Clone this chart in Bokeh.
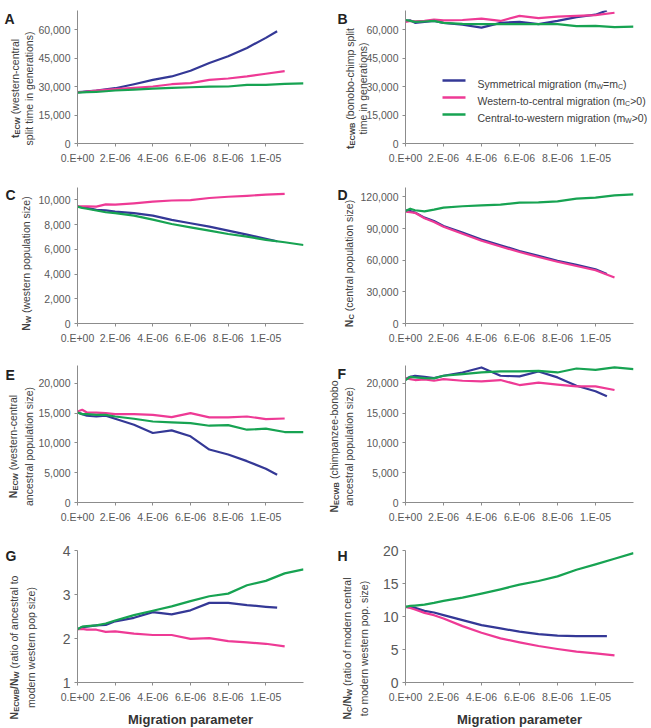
from bokeh.plotting import figure
from bokeh.models import Label, Range1d, FixedTicker, NumeralTickFormatter, Arrow, GridBox
from bokeh.layouts import column, row
from bokeh.embed import file_html
from bokeh.resources import INLINE

FONT = "Liberation Sans"
C_SYM = "#343896"
C_WC = "#ee3a95"
C_CW = "#17a352"
TXT = "#404040"
TICK = "#595959"

# ---------------- data ----------------
x_sym = [0, 0.25e-6, 0.5e-6, 1e-6, 1.5e-6, 2e-6, 3e-6, 4e-6, 5e-6, 6e-6, 7e-6, 8e-6, 9e-6, 10e-6, 10.6e-6]
x_wc = [0, 0.25e-6, 0.5e-6, 1e-6, 1.5e-6, 2e-6, 3e-6, 4e-6, 5e-6, 6e-6, 7e-6, 8e-6, 9e-6, 10e-6, 11e-6]
x_cw = [0, 0.25e-6, 0.5e-6, 1e-6, 1.5e-6, 2e-6, 3e-6, 4e-6, 5e-6, 6e-6, 7e-6, 8e-6, 9e-6, 10e-6, 11e-6, 12e-6]

x_ticks = [0, 2e-6, 4e-6, 6e-6, 8e-6, 1e-5]
x_tick_labels = ["0.E+00", "2.E-06", "4.E-06", "6.E-06", "8.E-06", "1.E-05"]

# A: western-central split time
A_sym = [27000, 27200, 27400, 27800, 28500, 29100, 31200, 33500, 35300, 38300, 42400, 45900, 50300, 55600, 59100]
A_wc = [27000, 27100, 27300, 27800, 28300, 28600, 29300, 30000, 31200, 31800, 33500, 34200, 35300, 36700, 38100]
A_cw = [26800, 26900, 27000, 27200, 27500, 27900, 28400, 28900, 29300, 29600, 29900, 30000, 30900, 30900, 31400, 31600]
# B: bonobo-chimp split time
B_sym = [64500, 64800, 63500, 64000, 64500, 63500, 62500, 61000, 63500, 64000, 62800, 64500, 66500, 67800, 70000]
B_wc = [64000, 64500, 64300, 64500, 65200, 64800, 65000, 65700, 64500, 67200, 66000, 66800, 67200, 67600, 68800]
B_cw = [65000, 64500, 64000, 64200, 64500, 63500, 63000, 62800, 62800, 62800, 62800, 62800, 61800, 61900, 61200, 61500]
# C: western population size
C_sym_v = [9450, 9400, 9350, 9190, 9150, 9050, 8920, 8730, 8380, 8110, 7840, 7510, 7190, 6840, 6650]
C_wc_v = [9480, 9480, 9470, 9450, 9640, 9620, 9720, 9850, 9950, 9980, 10150, 10250, 10330, 10420, 10490]
C_cw_v = [9450, 9350, 9280, 9140, 9000, 8920, 8730, 8400, 8050, 7780, 7510, 7240, 7030, 6760, 6570, 6350]
# D: central population size
D_sym = [107400, 106700, 105200, 100400, 97300, 92500, 86200, 79600, 74200, 68800, 64100, 59400, 55600, 51500, 47000]
D_wc = [106000, 105500, 105000, 99800, 96300, 91800, 85200, 78500, 73000, 67800, 63100, 58600, 54500, 50500, 43600]
D_cw = [106700, 108900, 107400, 106400, 108000, 109900, 111200, 112100, 112700, 114600, 114900, 115900, 118400, 119400, 121600, 122500]
# E: western-central ancestral population size
E_sym = [15100, 14830, 14560, 14440, 14560, 14060, 13060, 11670, 12110, 11110, 8890, 8060, 6940, 5670, 4670]
E_wc = [15280, 15560, 15100, 15100, 15000, 14830, 14830, 14700, 14330, 15000, 14280, 14280, 14440, 14000, 14100]
E_cw = [15100, 14830, 14830, 14720, 14720, 14440, 14060, 13600, 13440, 13330, 12890, 13000, 12220, 12390, 11830, 11830]
# F: chimpanzee-bonobo ancestral population size
F_sym = [20720, 21110, 21280, 21110, 20890, 21280, 21830, 22670, 21280, 21170, 22000, 21000, 19610, 18670, 17830]
F_wc = [20890, 20720, 20560, 20670, 20440, 20720, 20440, 20330, 20560, 19720, 20110, 19780, 19500, 19500, 18890]
F_cw = [20560, 21100, 21000, 20890, 20830, 21280, 21560, 21830, 22000, 22000, 22110, 21830, 22500, 22280, 22670, 22390]
# G: ratio ancestral / modern western
G_sym = [2.21, 2.26, 2.27, 2.30, 2.31, 2.39, 2.47, 2.60, 2.55, 2.64, 2.81, 2.81, 2.76, 2.72, 2.70]
G_wc = [2.21, 2.22, 2.20, 2.20, 2.15, 2.16, 2.11, 2.08, 2.08, 1.99, 2.01, 1.94, 1.91, 1.88, 1.82]
G_cw = [2.21, 2.27, 2.28, 2.30, 2.34, 2.41, 2.53, 2.63, 2.73, 2.85, 2.96, 3.02, 3.21, 3.31, 3.48, 3.57]
# H: ratio modern central / modern western
H_sym = [11.46, 11.4, 11.3, 10.85, 10.6, 10.2, 9.45, 8.7, 8.2, 7.7, 7.34, 7.09, 7.04, 7.04, 7.04]
H_wc = [11.46, 11.3, 11.06, 10.55, 10.2, 9.7, 8.54, 7.54, 6.68, 6.08, 5.53, 5.07, 4.67, 4.42, 4.12]
H_cw = [11.46, 11.6, 11.66, 11.8, 12.06, 12.36, 12.86, 13.47, 14.12, 14.82, 15.38, 16.08, 17.09, 17.89, 18.74, 19.6]

legend_labels = [
    [("Symmetrical migration (m", False), ("W", True), ("=m", False), ("C", True), (")", False)],
    [("Western-to-central migration (m", False), ("C", True), (">0)", False)],
    [("Central-to-western migration (m", False), ("W", True), (">0)", False)],
]

# ---------------- text metrics (Arial / Liberation Sans) ----------------
REG = {' ': 278, '(': 333, ')': 333, '-': 333, '.': 278, '/': 278, '=': 584, '>': 584, ',': 278,
       'a': 556, 'b': 556, 'c': 500, 'd': 556, 'e': 556, 'f': 278, 'g': 556, 'h': 556, 'i': 222,
       'j': 222, 'k': 500, 'l': 222, 'm': 833, 'n': 556, 'o': 556, 'p': 556, 'q': 556, 'r': 333,
       's': 500, 't': 278, 'u': 556, 'v': 500, 'w': 722, 'x': 500, 'y': 500, 'z': 500,
       'A': 667, 'B': 667, 'C': 722, 'D': 722, 'E': 667, 'F': 611, 'G': 778, 'H': 722, 'I': 278,
       'M': 833, 'N': 722, 'S': 667, 'T': 611, 'W': 944}
BOLD = {'t': 333, 'N': 722, 'E': 667, 'C': 722, 'W': 944, 'B': 722, '/': 278, ' ': 278}

PAGE_H = 728


def tw(s, size, bold):
    tab = BOLD if bold else REG
    return sum(tab.get(ch, REG.get(ch, 556)) for ch in s) * size / 1000.0


def rich(p, segs, x0, y0, vertical, center=True, color=TXT):
    total = sum(tw(t, s, b) for t, s, b, sub in segs)
    pos = -total / 2 if center else 0.0
    for t, s, b, sub in segs:
        stripped = t.lstrip(" ")
        pos += tw(t[:len(t) - len(stripped)], s, b)
        if vertical:
            x = x0 + 3.8 + (2.5 if sub else 0)
            y = y0 + pos
            ang = 1.5707963267948966
        else:
            x = x0 + pos
            y = y0 - (2.5 if sub else 0)
            ang = 0
        p.add_layout(Label(x=x, y=y, x_units="screen", y_units="screen", text=stripped, angle=ang,
                           text_font=FONT, text_font_size=f"{s}px",
                           text_font_style="bold" if b else "normal", text_color=color,
                           text_align="left", text_baseline="alphabetic"))
        pos += tw(stripped, s, b)


def R(t):
    return (t, 10.5, False, False)


def Bm(t):
    return (t, 10.5, True, False)


def S(t):
    return (t, 7.5, True, True)


def make(width, height, bl, br, bt, bb, ymin, ymax, yticks, fmt, tick_size="10.5px"):
    p = figure(width=width, height=height, output_backend="svg", toolbar_location=None,
               x_range=Range1d(0, 1.2e-5), y_range=Range1d(ymin, ymax),
               min_border_left=bl, min_border_right=br, min_border_top=bt, min_border_bottom=bb)
    p.outline_line_color = None
    p.grid.visible = False
    p.background_fill_color = "white"
    p.border_fill_color = "white"
    p.xaxis.ticker = FixedTicker(ticks=x_ticks)
    p.xaxis.major_label_overrides = {t: l for t, l in zip(x_ticks, x_tick_labels)}
    p.yaxis.ticker = FixedTicker(ticks=yticks)
    if fmt:
        p.yaxis.formatter = NumeralTickFormatter(format="0,0")
    for ax in (p.xaxis[0], p.yaxis[0]):
        ax.axis_line_color = "#8c8c8c"
        ax.major_tick_line_color = "#8c8c8c"
        ax.major_tick_out = 3
        ax.major_tick_in = 0
        ax.minor_tick_line_color = None
        ax.major_label_text_font = FONT
        ax.major_label_text_color = TICK
    p.xaxis.major_label_text_font_size = "10.5px"
    p.xaxis.major_label_standoff = 5
    p.yaxis.major_label_text_font_size = tick_size
    p.yaxis.major_label_standoff = 4
    return p


def add_lines(p, ys, yw, yc):
    p.line(x_sym, ys, line_color=C_SYM, line_width=2.2, line_join="round")
    p.line(x_wc, yw, line_color=C_WC, line_width=2.2, line_join="round")
    p.line(x_cw, yc, line_color=C_CW, line_width=2.2, line_join="round")


LW, RW = 328, 323
LB, LR, RB, RR = 77, 25, 77, 18

pA = make(LW, 178, LB, LR, 10, 35, 0, 70000, [0, 15000, 30000, 45000, 60000], True)
add_lines(pA, A_sym, A_wc, A_cw)
pB = make(RW, 178, RB, RR, 10, 35, 0, 70000, [0, 15000, 30000, 45000, 60000], True)
add_lines(pB, B_sym, B_wc, B_cw)

pC = make(LW, 178, LB, LR, 9, 33, 0, 11000, [0, 2000, 4000, 6000, 8000, 10000], True)
add_lines(pC, C_sym_v, C_wc_v, C_cw_v)
pD = make(RW, 178, RB, RR, 9, 33, 0, 129000, [0, 30000, 60000, 90000, 120000], True)
add_lines(pD, D_sym, D_wc, D_cw)

pE = make(LW, 177, LB, LR, 9, 31, 0, 23000, [0, 5000, 10000, 15000, 20000], True)
add_lines(pE, E_sym, E_wc, E_cw)
pF = make(RW, 177, RB, RR, 9, 31, 0, 23000, [0, 5000, 10000, 15000, 20000], True)
add_lines(pF, F_sym, F_wc, F_cw)

pG = make(LW, 195, LB, LR, 17, 46, 1, 4, [1, 2, 3, 4], False, tick_size="14px")
add_lines(pG, G_sym, G_wc, G_cw)
pH = make(RW, 195, RB, RR, 17, 46, 0, 20, [0, 5, 10, 15, 20], False, tick_size="14px")
add_lines(pH, H_sym, H_wc, H_cw)

# ---------------- overlay with panel letters, axis titles and legend ----------------
ov = figure(width=LW + RW, height=PAGE_H, output_backend="svg", toolbar_location=None,
            x_range=Range1d(0, LW + RW), y_range=Range1d(0, PAGE_H),
            x_axis_location=None, y_axis_location=None,
            min_border_left=0, min_border_right=0, min_border_top=0, min_border_bottom=0)
ov.outline_line_color = None
ov.grid.visible = False
ov.background_fill_alpha = 0
ov.border_fill_alpha = 0


def letter(s, px, py):
    ov.add_layout(Label(x=px, y=PAGE_H - py, x_units="screen", y_units="screen", text=s,
                        text_font=FONT, text_font_size="14px", text_font_style="bold",
                        text_color="#222222", text_align="left", text_baseline="alphabetic"))


def vtitle(segs, px, py):
    rich(ov, segs, px, PAGE_H - py, True)


letter("A", 4, 18)
letter("B", 337, 18)
letter("C", 5, 194)
letter("D", 337, 194)
letter("E", 5, 374)
letter("F", 337, 373)
letter("G", 5, 555)
letter("H", 337, 555)

vtitle([Bm("t"), S("ECW"), R(" (western-central")], 11, 88)
vtitle([R("split time in generations)")], 25, 88)
vtitle([Bm("t"), S("ECWB"), R(" (bonobo-chimp split")], 346, 88)
vtitle([R("time in generations)")], 359, 88)
vtitle([Bm("N"), S("W"), R(" (western population size)")], 22, 263)
vtitle([Bm("N"), S("C"), R(" (central population size)")], 345, 263)
vtitle([Bm("N"), S("ECW"), R(" (western-central")], 9, 446)
vtitle([R("ancestral population size)")], 25, 446)
vtitle([Bm("N"), S("ECWB"), R(" (chimpanzee-bonobo")], 330, 446)
vtitle([R("ancestral population size)")], 345, 446)
vtitle([Bm("N"), S("ECWB"), Bm("/N"), S("W"), R(" (ratio of ancestral to")], 10, 647)
vtitle([R("modern western pop size)")], 27, 647)
vtitle([Bm("N"), S("C"), Bm("/N"), S("W"), R(" (ratio of modern central")], 343, 648)
vtitle([R("to modern western pop. size)")], 360, 648)

for cx in (190, 519):
    ov.add_layout(Label(x=cx, y=PAGE_H - 719, x_units="screen", y_units="screen",
                        text="Migration parameter", text_font=FONT, text_font_size="13px",
                        text_font_style="bold", text_color="#333333", text_align="center",
                        text_baseline="alphabetic"))

for i, (segs, col) in enumerate(zip(legend_labels, [C_SYM, C_WC, C_CW])):
    py = 80 + 17 * i
    ov.add_layout(Arrow(x_start=442, y_start=PAGE_H - py, x_end=465, y_end=PAGE_H - py,
                        start_units="screen", end_units="screen", end=None, start=None,
                        line_color=col, line_width=2.5))
    rich(ov, [(t, 7 if sub else 10.5, False, sub) for t, sub in segs], 477, PAGE_H - py - 3.8,
         False, center=False)

charts = column(row(pA, pB), row(pC, pD), row(pE, pF), row(pG, pH))
overlay = column(ov)
layout = GridBox(children=[(charts, 0, 0), (overlay, 0, 0)])
open("out.html", "w").write(file_html(layout, INLINE))
